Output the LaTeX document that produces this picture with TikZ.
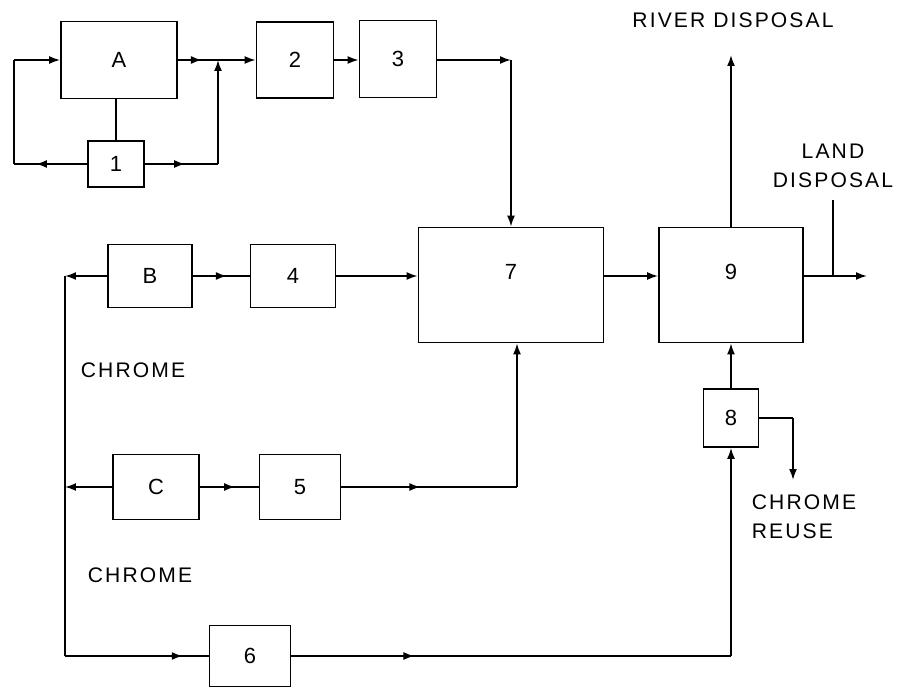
\documentclass[tikz,border=0pt]{standalone}
\usepackage{fontspec}
\setmainfont[LetterSpace=10]{Liberation Sans}
\usetikzlibrary{arrows.meta,decorations.markings}

\begin{document}
\begin{tikzpicture}[x=0.02cm, y=-0.02cm, line width=1pt, >={Latex[length=2.2mm,width=1.6mm]},
  box/.style={draw, line width=1pt, inner sep=0pt, font=\fontsize{12.5}{14}\selectfont},
  txt/.style={font=\fontsize{12}{16.5}\selectfont, inner sep=0pt},
  midarr/.style={postaction={decorate}, decoration={markings, mark=at position #1 with {\arrow{>}}}}]
\useasboundingbox (0,0) rectangle (898,688);

\node[box, minimum width=2.32cm, minimum height=1.54cm] (A) at (119,60) {A};
\node[box, minimum width=1.12cm, minimum height=0.92cm] (n1) at (116,164) {1};
\node[box, minimum width=1.54cm, minimum height=1.52cm] (n2) at (295,60) {2};
\node[box, minimum width=1.54cm, minimum height=1.54cm] (n3) at (398,59) {3};
\node[box, minimum width=1.68cm, minimum height=1.26cm] (B) at (150,276) {B};
\node[box, minimum width=1.70cm, minimum height=1.26cm] (n4) at (293,276) {4};
\node[box, minimum width=3.70cm, minimum height=2.30cm, label={[txt, font=\fontsize{12.5}{14}\selectfont, yshift=0.27cm]center:7}] (n7) at (511,285) {};
\node[box, minimum width=2.88cm, minimum height=2.30cm, label={[txt, font=\fontsize{12.5}{14}\selectfont, yshift=0.27cm]center:9}] (n9) at (731,285) {};
\node[box, minimum width=1.72cm, minimum height=1.30cm] (C) at (156,487) {C};
\node[box, minimum width=1.62cm, minimum height=1.30cm] (n5) at (300,487) {5};
\node[box, minimum width=1.62cm, minimum height=1.22cm] (n6) at (250,656) {6};
\node[box, minimum width=1.10cm, minimum height=1.16cm] (n8) at (731,418) {8};

\node[txt] (river) at (733,20) {RIVER DISPOSAL};
\node[txt, align=center] (land) at (833,166) {LAND\\DISPOSAL};
\node[txt] (chr1) at (133,370) {CHROME};
\node[txt] (chr2) at (140,575) {CHROME};
\node[txt, align=left, anchor=north west] (reuse) at (751,494) {CHROME\\REUSE};

\coordinate (j1) at (218,60);
\coordinate (j1b) at (218,164);
\coordinate (lft1) at (14,164);
\coordinate (lft2) at (14,60);
\coordinate (bl) at (65,276);
\coordinate (cl) at (65,487);
\coordinate (bot) at (65,656);
\coordinate (c5) at (517,487);
\coordinate (c6) at (731,656);
\coordinate (rv) at (731,55);
\coordinate (ld) at (867,276);
\coordinate (lt) at (833,200);
\coordinate (c8) at (793,418);
\coordinate (c8b) at (793,480);

% loop round A and 1
\draw[midarr=0.6] (A.east) -- (j1);
\draw[->] (j1) -- (n2.west);
\draw[midarr=0.55] (n1.east) -- (j1b);
\draw[->] (j1b) -- (j1);
\draw[midarr=0.7] (n1.west) -- (lft1);
\draw (lft1) -- (lft2);
\draw[->] (lft2) -- (A.west);
\draw (A.south -| n1.north) -- (n1.north);
\draw[->] (n2.east) -- (n2.east -| n3.west);
\draw[->] (n3.east |- n2.east) -- (n2.east -| n7.north);
\draw[->] (n2.east -| n7.north) -- (n7.north);

% B and C lines
\draw[->] (B.west) -- (bl);
\draw (bl) -- (bot);
\draw[midarr=0.6] (B.east) -- (n4.west);
\draw[->] (n4.east) -- (n4.east -| n7.west);
\draw[->] (C.west) -- (cl);
\draw[midarr=0.6] (C.east) -- (n5.west);
\draw[midarr=0.45] (n5.east) -- (c5);
\draw[->] (c5) -- (c5 |- n7.south);
\draw[midarr=0.82] (bot) -- (n6.west);
\draw[midarr=0.28] (n6.east) -- (c6);
\draw[->] (c6) -- (n8.south);

% 7, 9 and 8
\draw[->] (n7.east |- n4.east) -- (n9.west |- n4.east);
\draw[->] (n9.east |- ld) -- (ld);
\draw (lt) -- (lt |- ld);
\draw[->] (n9.north) -- (rv);
\draw[->] (n8.north) -- (n9.south);
\draw (n8.east) -- (c8);
\draw[->] (c8) -- (c8b);

\end{tikzpicture}
\end{document}
